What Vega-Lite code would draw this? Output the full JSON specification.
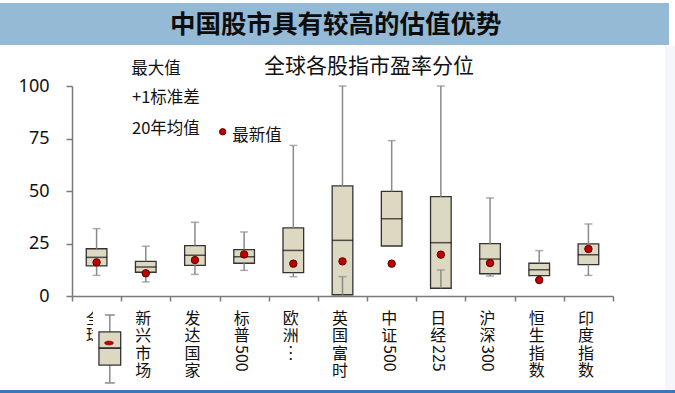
{
  "$schema": "https://vega.github.io/schema/vega-lite/v6.json",
  "width": 541,
  "height": 210,
  "autosize": {"type": "none"},
  "padding": {"left": 72, "top": 86, "right": 62, "bottom": 97},
  "background": "white",
  "config": {"view": {"stroke": null}, "font": "Noto Sans CJK SC"},
  "datasets": {
    "pe": [
      {"cat": "全球", "wmax": 32.1, "q3": 22.5, "med": 18.4, "q1": 14.3, "wmin": 9.8, "last": 16.0, "num": ""},
      {"cat": "新兴市场", "wmax": 23.7, "q3": 16.5, "med": 13.8, "q1": 11.3, "wmin": 6.7, "last": 10.8, "num": ""},
      {"cat": "发达国家", "wmax": 35.1, "q3": 24.0, "med": 19.4, "q1": 14.6, "wmin": 10.3, "last": 17.1, "num": ""},
      {"cat": "标普500", "wmax": 30.5, "q3": 22.1, "med": 18.7, "q1": 15.6, "wmin": 12.2, "last": 19.8, "num": "500"},
      {"cat": "欧洲︙", "wmax": 71.7, "q3": 32.4, "med": 21.7, "q1": 11.1, "wmin": 9.2, "last": 15.4, "num": ""},
      {"cat": "英国富时", "wmax": 100, "q3": 52.4, "med": 26.5, "q1": 0.6, "wmin": 9.2, "last": 16.5, "num": ""},
      {"cat": "中证500", "wmax": 74.0, "q3": 49.8, "med": 36.8, "q1": 23.8, "wmin": null, "last": 15.4, "num": "500"},
      {"cat": "日经225", "wmax": 100, "q3": 47.3, "med": 25.4, "q1": 3.7, "wmin": 12.4, "last": 19.7, "num": "225"},
      {"cat": "沪深300", "wmax": 46.7, "q3": 24.9, "med": 17.6, "q1": 10.6, "wmin": 9.5, "last": 15.7, "num": "300"},
      {"cat": "恒生指数", "wmax": 21.6, "q3": 15.6, "med": 12.5, "q1": 9.7, "wmin": null, "last": 7.6, "num": ""},
      {"cat": "印度指数", "wmax": 34.3, "q3": 24.8, "med": 19.7, "q1": 14.9, "wmin": 9.8, "last": 22.4, "num": ""}
    ]
  },
  "layer": [
    {
      "data": {"name": "pe"},
      "encoding": {
        "x": {
          "field": "cat", "type": "nominal", "sort": null, "title": null,
          "scale": {"paddingInner": 0, "paddingOuter": 0},
          "axis": {
            "tickBand": "extent", "domainColor": "#7a7a7a", "domainWidth": 1.5,
            "tickColor": "#7a7a7a", "tickWidth": 1.5, "tickSize": 5,
            "labelExpr": "split(replace(datum.label, regexp('[0-9]+','g'), ''), '')",
            "labelAngle": 0, "labelAlign": "center", "labelBaseline": "top",
            "labelFontSize": 16, "labelLineHeight": 17.5, "labelPadding": 9, "labelOffset": -3,
            "labelColor": "#111", "labelFont": "Noto Sans CJK SC",
            "labelOverlap": false, "labelBound": false, "labelFlush": false, "labelLimit": 0
          }
        }
      },
      "layer": [
        {
          "mark": {"type": "bar", "width": {"band": 0.42}, "fill": "#ddd8c1", "stroke": "#333333", "strokeWidth": 1.3},
          "encoding": {
            "y": {"field": "q3", "type": "quantitative", "title": null,
              "scale": {"domain": [0, 100], "nice": false, "zero": false},
              "axis": {"title": null, "values": [0, 25, 50, 75, 100], "grid": false,
                "domainColor": "#7a7a7a", "domainWidth": 1.5, "tickColor": "#7a7a7a",
                "tickWidth": 1.5, "tickSize": 6, "labelFontSize": 18, "labelFont": "Noto Sans",
                "labelColor": "#111", "labelPadding": 17}},
            "y2": {"field": "q1"}
          }
        },
        {
          "mark": {"type": "rule", "color": "#8a8a8a", "strokeWidth": 1.5},
          "encoding": {"y": {"field": "q3", "type": "quantitative", "title": null}, "y2": {"field": "wmax"}}
        },
        {
          "mark": {"type": "rule", "color": "#8a8a8a", "strokeWidth": 1.5},
          "encoding": {"y": {"field": "wmin", "type": "quantitative", "title": null}, "y2": {"field": "q1"}}
        },
        {
          "mark": {"type": "tick", "color": "#8a8a8a", "size": 8, "thickness": 1.5},
          "encoding": {"y": {"field": "wmax", "type": "quantitative", "title": null}}
        },
        {
          "mark": {"type": "tick", "color": "#8a8a8a", "size": 8, "thickness": 1.5},
          "encoding": {"y": {"field": "wmin", "type": "quantitative", "title": null}}
        },
        {
          "mark": {"type": "tick", "color": "#111111", "size": 21, "thickness": 1.5},
          "encoding": {"y": {"field": "med", "type": "quantitative", "title": null}}
        },
        {
          "mark": {"type": "point", "shape": "circle", "filled": true, "fill": "#c00000", "stroke": "#5a0000", "strokeWidth": 1, "size": 55, "opacity": 1},
          "encoding": {"y": {"field": "last", "type": "quantitative", "title": null}}
        },
        {
          "transform": [{"filter": "datum.num != ''"}],
          "mark": {"type": "text", "angle": 90, "align": "center", "baseline": "middle", "dy": 3, "fontSize": 16, "font": "Noto Sans CJK SC", "color": "#111"},
          "encoding": {"y": {"datum": -29.7, "type": "quantitative"}, "text": {"field": "num"}}
        }
      ]
    },
    {
      "data": {"values": [{"t": "中国股市具有较高的估值优势", "s": "全球各股指市盈率分位"}]},
      "layer": [
        {
          "mark": {"type": "rect", "color": "#94bad6"},
          "encoding": {
            "x": {"datum": -13.31, "type": "quantitative", "scale": {"domain": [0, 100], "nice": false, "zero": false}, "axis": null},
            "x2": {"datum": 110.35},
            "y": {"datum": 139.5, "type": "quantitative"},
            "y2": {"datum": 119.5}
          }
        },
        {
          "mark": {"type": "rect", "color": "#f4f6f9"},
          "encoding": {
            "x": {"datum": 109.6, "type": "quantitative"},
            "x2": {"datum": 111.5},
            "y": {"datum": 119.0, "type": "quantitative"},
            "y2": {"datum": -44.8}
          }
        },
        {
          "mark": {"type": "rect", "color": "#3a77b4"},
          "encoding": {
            "x": {"datum": -13.31, "type": "quantitative"},
            "x2": {"datum": 111.5},
            "y": {"datum": -44.8, "type": "quantitative"},
            "y2": {"datum": -46.3}
          }
        },
        {
          "mark": {"type": "text", "fontSize": 25.5, "fontWeight": "bold", "align": "center", "baseline": "middle", "color": "#0d0d0d", "font": "Noto Sans CJK SC"},
          "encoding": {
            "x": {"datum": 48.76, "type": "quantitative"},
            "y": {"datum": 129.05, "type": "quantitative"},
            "text": {"field": "t"}
          }
        },
        {
          "mark": {"type": "text", "fontSize": 21, "align": "center", "baseline": "middle", "color": "#111", "font": "Noto Sans CJK SC"},
          "encoding": {
            "x": {"datum": 54.9, "type": "quantitative"},
            "y": {"datum": 109.05, "type": "quantitative"},
            "text": {"field": "s"}
          }
        },
        {
          "mark": {"type": "text", "fontSize": 16.5, "align": "left", "baseline": "middle", "color": "#111", "font": "Noto Sans CJK SC", "text": "最大值"},
          "encoding": {"x": {"datum": 10.96, "type": "quantitative"}, "y": {"datum": 108.1, "type": "quantitative"}}
        },
        {
          "mark": {"type": "text", "fontSize": 16.5, "align": "left", "baseline": "middle", "color": "#111", "font": "Noto Sans CJK SC", "text": "+1标准差"},
          "encoding": {"x": {"datum": 11.1, "type": "quantitative"}, "y": {"datum": 94.4, "type": "quantitative"}}
        },
        {
          "mark": {"type": "text", "fontSize": 16.5, "align": "left", "baseline": "middle", "color": "#111", "font": "Noto Sans CJK SC", "text": "20年均值"},
          "encoding": {"x": {"datum": 11.1, "type": "quantitative"}, "y": {"datum": 79.5, "type": "quantitative"}}
        },
        {
          "mark": {"type": "point", "shape": "circle", "filled": true, "fill": "#c00000", "stroke": "#5a0000", "strokeWidth": 1, "size": 40, "opacity": 1},
          "encoding": {"x": {"datum": 27.85, "type": "quantitative"}, "y": {"datum": 78.2, "type": "quantitative"}}
        },
        {
          "mark": {"type": "text", "fontSize": 16.5, "align": "left", "baseline": "middle", "color": "#111", "font": "Noto Sans CJK SC", "text": "最新值"},
          "encoding": {"x": {"datum": 29.6, "type": "quantitative"}, "y": {"datum": 76.2, "type": "quantitative"}}
        },
        {
          "mark": {"type": "rect", "color": "white"},
          "encoding": {
            "x": {"datum": 3.88, "type": "quantitative"},
            "x2": {"datum": 10.17},
            "y": {"datum": -3.6, "type": "quantitative"},
            "y2": {"datum": -43.8}
          }
        },
        {
          "mark": {"type": "rule", "color": "#8a8a8a", "strokeWidth": 1.5},
          "encoding": {"x": {"datum": 6.99, "type": "quantitative"}, "y": {"datum": -9.05, "type": "quantitative"}, "y2": {"datum": -41.4}}
        },
        {
          "mark": {"type": "rule", "color": "#8a8a8a", "strokeWidth": 1.5},
          "encoding": {"x": {"datum": 6.07, "type": "quantitative"}, "x2": {"datum": 7.91}, "y": {"datum": -9.05, "type": "quantitative"}}
        },
        {
          "mark": {"type": "rule", "color": "#8a8a8a", "strokeWidth": 1.5},
          "encoding": {"x": {"datum": 6.07, "type": "quantitative"}, "x2": {"datum": 7.91}, "y": {"datum": -41.4, "type": "quantitative"}}
        },
        {
          "mark": {"type": "rect", "fill": "#ddd8c1", "stroke": "#333333", "strokeWidth": 1.3},
          "encoding": {"x": {"datum": 4.98, "type": "quantitative"}, "x2": {"datum": 9.0}, "y": {"datum": -17.1, "type": "quantitative"}, "y2": {"datum": -32.9}}
        },
        {
          "mark": {"type": "rule", "color": "#111111", "strokeWidth": 1.5},
          "encoding": {"x": {"datum": 4.98, "type": "quantitative"}, "x2": {"datum": 9.0}, "y": {"datum": -24.8, "type": "quantitative"}}
        },
        {
          "mark": {"type": "point", "shape": "M-1,0A1,0.45,0,1,0,1,0A1,0.45,0,1,0,-1,0Z", "filled": true, "fill": "#c00000", "stroke": "#7a0000", "strokeWidth": 0.5, "size": 80, "opacity": 1},
          "encoding": {"x": {"datum": 6.84, "type": "quantitative"}, "y": {"datum": -22.4, "type": "quantitative"}}
        }
      ]
    }
  ],
  "resolve": {"scale": {"x": "independent"}}
}
